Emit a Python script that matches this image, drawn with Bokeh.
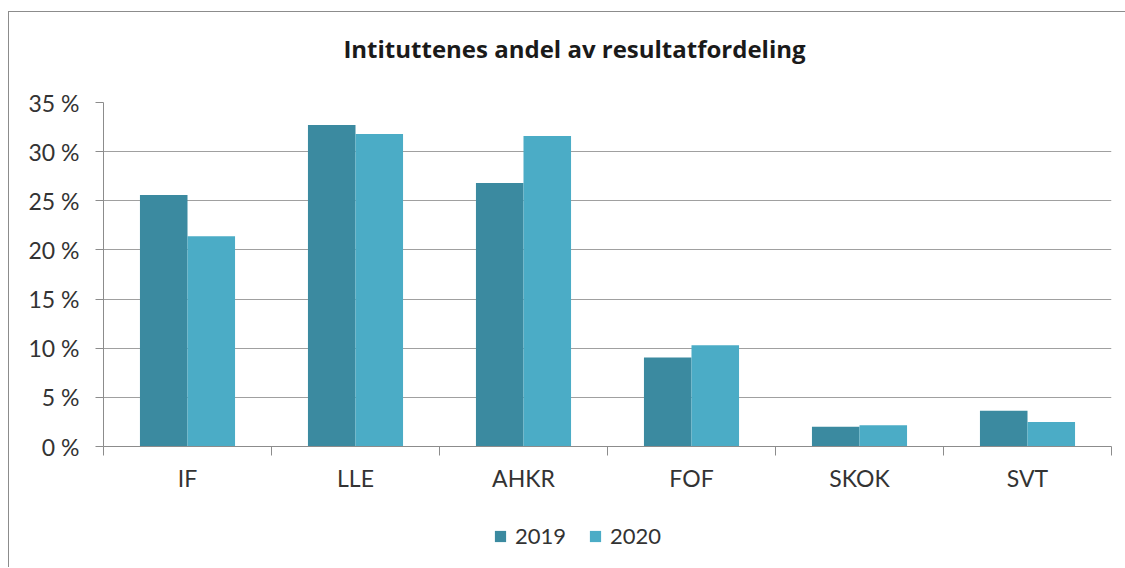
from bokeh.plotting import figure
from bokeh.layouts import column
from bokeh.models import (ColumnDataSource, FixedTicker, CustomJSTickFormatter,
                          Legend, LegendItem, Range1d, PrintfTickFormatter, Label)
from bokeh.embed import file_html
from bokeh.resources import INLINE

title_text = "Intituttenes andel av resultatfordeling"
categories = ["IF", "LLE", "AHKR", "FOF", "SKOK", "SVT"]
series_names = ["2019", "2020"]
values_2019 = [25.6, 32.7, 26.8, 9.05, 2.0, 3.65]
values_2020 = [21.4, 31.8, 31.6, 10.3, 2.15, 2.5]
y_ticks = [0, 5, 10, 15, 20, 25, 30, 35]

colors = ["#3b8aa0", "#4bacc6"]
FONT = "Lato"
W = 1116

idx = list(range(len(categories)))
bar_w = 0.283
src = ColumnDataSource(dict(
    x19=[i + 0.5 - bar_w / 2 for i in idx],
    x20=[i + 0.5 + bar_w / 2 for i in idx],
    v19=values_2019,
    v20=values_2020,
))


def strip(height):
    f = figure(width=W, height=height, output_backend="svg", toolbar_location=None,
               x_range=Range1d(0, len(categories)), y_range=Range1d(100, 101),
               x_axis_location=None, y_axis_location=None,
               min_border_left=0, min_border_right=0, min_border_top=0, min_border_bottom=0)
    f.grid.grid_line_color = None
    f.outline_line_color = None
    f.border_fill_color = "white"
    f.background_fill_color = "white"
    return f


# title strip
top = strip(70)
top.add_layout(Label(x=471, y=34, x_units="screen", y_units="screen", text=title_text,
                     text_align="center", text_baseline="middle",
                     text_font="Open Sans", text_font_size="24px", text_font_style="bold",
                     text_color="#1a1a1a"))

p = figure(width=W, height=430, output_backend="svg", toolbar_location=None,
           x_range=Range1d(0, len(categories)), y_range=Range1d(0, 35),
           min_border_left=94, min_border_right=14, min_border_top=20,
           min_border_bottom=66)
p.outline_line_color = None
p.background_fill_color = "white"
p.border_fill_color = "white"

r19 = p.vbar(x="x19", top="v19", width=bar_w, source=src, fill_color=colors[0], line_color=None)
r20 = p.vbar(x="x20", top="v20", width=bar_w, source=src, fill_color=colors[1], line_color=None)

# y axis
ya = p.yaxis[0]
ya.ticker = FixedTicker(ticks=y_ticks, minor_ticks=[])
ya.formatter = PrintfTickFormatter(format="%d %%")
ya.axis_line_color = "#8c8c8c"
ya.major_tick_line_color = "#8c8c8c"
ya.major_tick_out = 8
ya.major_tick_in = 0
ya.minor_tick_line_color = None
ya.major_label_text_font = FONT
ya.major_label_text_font_size = "23px"
ya.major_label_text_color = "#333333"
ya.major_label_standoff = 16

# x axis
xa = p.xaxis[0]
xa.ticker = FixedTicker(ticks=[i + 0.5 for i in idx], minor_ticks=list(range(len(categories) + 1)))
xa.formatter = CustomJSTickFormatter(args=dict(cats=categories),
                                     code="return cats[Math.floor(tick)];")
xa.axis_line_color = "#8c8c8c"
xa.major_tick_line_color = None
xa.minor_tick_line_color = "#8c8c8c"
xa.minor_tick_out = 9
xa.minor_tick_in = 0
xa.major_label_text_font = FONT
xa.major_label_text_font_size = "23px"
xa.major_label_text_color = "#333333"
xa.major_label_standoff = 8

p.xgrid.grid_line_color = None
p.ygrid.grid_line_color = "#a0a0a0"
p.ygrid.ticker = FixedTicker(ticks=y_ticks)

# legend strip below the chart (its bars lie outside its visible range)
lg = strip(55)
l19 = lg.vbar(x="x19", top="v19", width=bar_w, source=src, fill_color=colors[0], line_color=None)
l20 = lg.vbar(x="x20", top="v20", width=bar_w, source=src, fill_color=colors[1], line_color=None)

legend = Legend(items=[LegendItem(label=series_names[0], renderers=[l19]),
                       LegendItem(label=series_names[1], renderers=[l20])],
                orientation="horizontal", location=(390, 18),
                glyph_width=14, glyph_height=14, spacing=22, label_standoff=8,
                label_text_font=FONT, label_text_font_size="22px",
                label_text_color="#333333", border_line_color=None,
                padding=0, margin=0,
                background_fill_alpha=0)
lg.add_layout(legend, "center")

layout = column(top, p, lg, spacing=0,
                styles={"border-left": "1px solid #8c8c8c", "border-top": "1px solid #8c8c8c",
                        "margin-top": "11px", "margin-left": "8px"})

open("out.html", "w").write(file_html(layout, INLINE))
